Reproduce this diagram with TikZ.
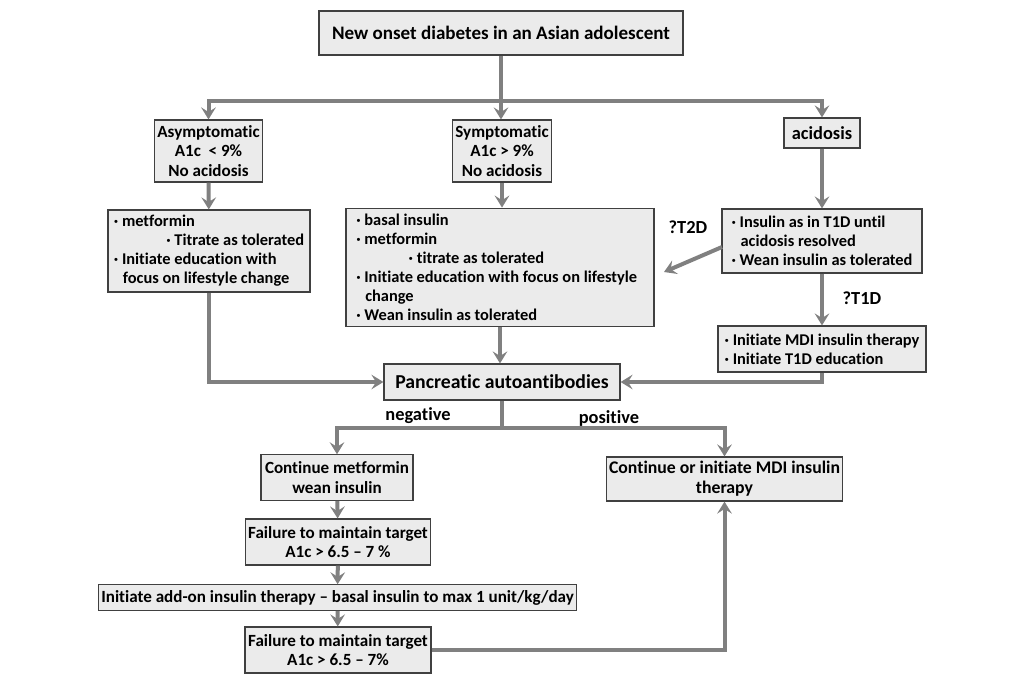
\documentclass[tikz,border=0pt]{standalone}
\usepackage{fontspec}
\setmainfont{Carlito}[Ligatures=NoCommon]
\usetikzlibrary{arrows.meta}

\begin{document}
\begin{tikzpicture}[x=0.75pt,y=-0.75pt,
    box/.style={draw=black!75, fill=black!8, line width=0.9pt, inner sep=2pt, align=center,
      font=\bfseries\fontsize{12.8}{14.4}\selectfont},
    listbox/.style={box, align=left, font=\bfseries\fontsize{12.3}{14.2}\selectfont},
    line/.style={draw=black!50, line width=3pt},
    flow/.style={line, -{Stealth[length=9pt,width=11pt,inset=3.5pt]}},
    tag/.style={font=\bfseries\fontsize{13.8}{15}\selectfont}]
    \useasboundingbox (0,0) rectangle (1024,693);

    % top
    \node[box, minimum width=273pt, minimum height=33pt, font=\bfseries\fontsize{14.3}{16}\selectfont]
        (onset) at (501,33) {New onset diabetes in an Asian adolescent};

    % presentation
    \node[box, minimum width=80pt, minimum height=46.5pt] (asym) at (208.5,151)
        {Asymptomatic\\A1c~~< 9\%\\No acidosis};
    \node[box, minimum width=73.5pt, minimum height=46.5pt] (sym) at (502,151)
        {Symptomatic\\A1c > 9\%\\No acidosis};
    \node[box, minimum width=57pt, minimum height=22.5pt, font=\bfseries\fontsize{13.8}{15}\selectfont]
        (acid) at (822,133) {acidosis};

    % first treatment
    \node[listbox, minimum width=151.5pt, minimum height=61.5pt] (metf) at (209,251)
        {· metformin\\
         \hspace*{3.2em}· Titrate as tolerated\\
         · Initiate education with\\
         \hspace*{0.55em}focus on lifestyle change};
    \node[listbox, minimum width=231pt, minimum height=89pt] (basal) at (500,267.5)
        {· basal insulin\\
         · metformin\\
         \hspace*{3.2em}· titrate as tolerated\\
         · Initiate education with focus on lifestyle\\
         \hspace*{0.55em}change\\
         · Wean insulin as tolerated\hspace*{6.5em}};
    \node[listbox, minimum width=150pt, minimum height=48pt] (ins) at (822,241)
        {· Insulin as in T1D until\\
         \hspace*{0.55em}acidosis resolved\\
         · Wean insulin as tolerated};
    \node[listbox, minimum width=156pt, minimum height=34.5pt] (mdi) at (822,349)
        {· Initiate MDI insulin therapy\\
         · Initiate T1D education};

    % antibodies
    \node[box, minimum width=177pt, minimum height=27pt, font=\bfseries\fontsize{14.8}{16}\selectfont]
        (panc) at (502,382) {Pancreatic autoantibodies};

    % negative side
    \node[box, minimum width=114pt, minimum height=34pt] (cmet) at (337,477.5)
        {Continue metformin\\wean insulin};
    \node[box, minimum width=136.5pt, minimum height=34.5pt] (fail1) at (338,542)
        {Failure to maintain target\\A1c > 6.5 -- 7 \%};
    \node[box, minimum width=353pt, minimum height=19pt] (addon) at (337.5,597.5)
        {Initiate add-on insulin therapy -- basal insulin to max 1 unit/kg/day};
    \node[box, minimum width=139.5pt, minimum height=34.5pt] (fail2) at (338,650)
        {Failure to maintain target\\A1c > 6.5 -- 7\%};

    % positive side
    \node[box, minimum width=170pt, minimum height=33pt, font=\bfseries\fontsize{13.3}{15}\selectfont]
        (cmdi) at (724.5,479) {Continue or initiate MDI insulin\\therapy};

    % labels
    \node[tag] (t2d) at (688,227) {?T2D};
    \node[tag] (t1d) at (862,298) {?T1D};
    \node[tag] (neg) at (418,416) {negative};
    \node[tag] (pos) at (609,418) {positive};

    \coordinate (split1) at (501,101);
    \coordinate (split2) at (502,428);
    \coordinate (t2dfrom) at (722,247);
    \coordinate (t2dto) at (664,272);

    % connectors
    \draw[line] (onset) -- (split1);
    \draw[flow] (split1) -| (asym);
    \draw[flow] (split1) -- (split1 |- sym.north);
    \draw[flow] (split1) -| (acid);
    \draw[flow] (asym) -- (metf);
    \draw[flow] (sym.south) -- (sym.south |- basal.north);
    \draw[flow] (acid) -- (ins);
    \draw[flow] (t2dfrom) -- (t2dto);
    \draw[flow] (ins) -- (mdi);
    \draw[flow] (metf.south) |- (panc.west);
    \draw[flow] (mdi.south) |- (panc.east);
    \draw[flow] (basal.south) -- (basal.south |- panc.north);
    \draw[line] (panc) -- (split2);
    \draw[flow] (split2) -| (cmet);
    \draw[flow] (split2) -| (cmdi);
    \draw[flow] (cmet) -- (fail1);
    \draw[flow] (fail1) -- (addon);
    \draw[flow] (addon) -- (fail2);
    \draw[flow] (fail2.east) -| (cmdi.south);
\end{tikzpicture}
\end{document}
